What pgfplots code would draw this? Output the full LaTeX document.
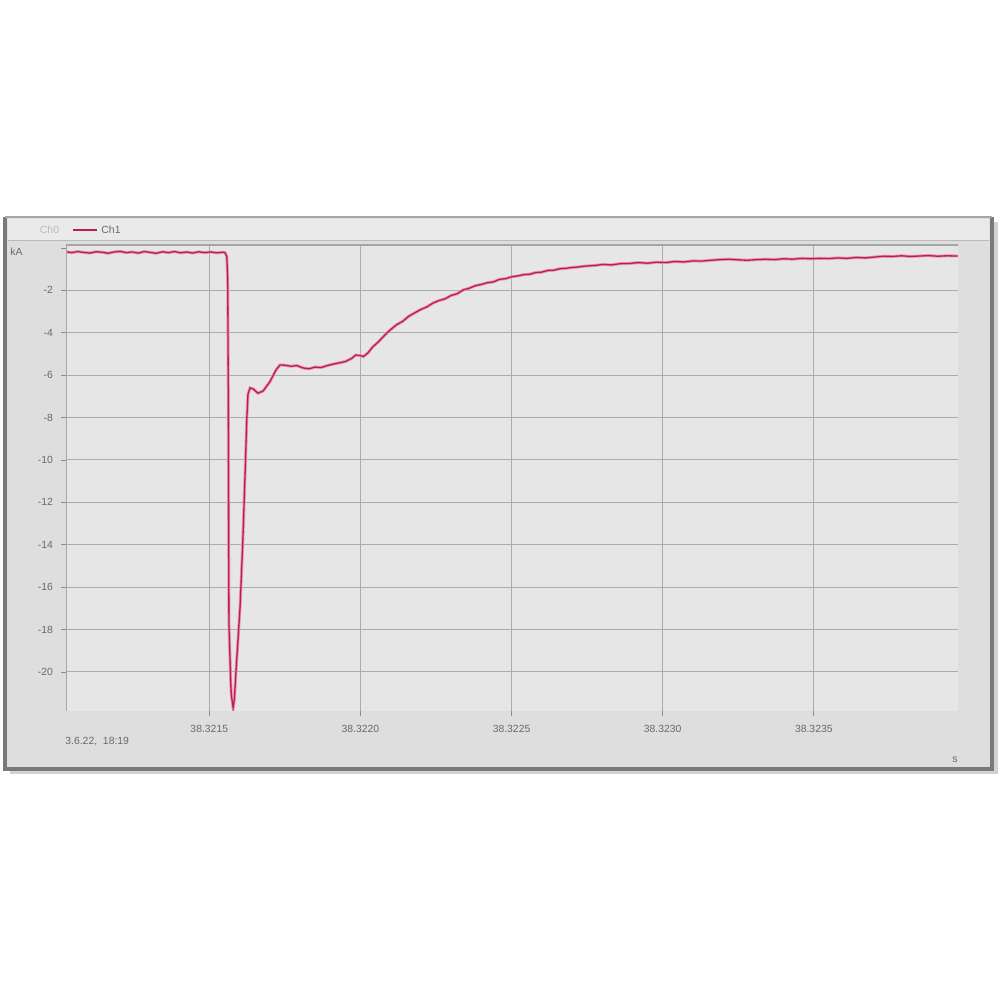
\documentclass[border=0pt]{standalone}
\usepackage{pgfplots}
\pgfplotsset{compat=1.18}
\usepackage{fontspec}
\setmainfont{Liberation Sans}
\definecolor{trace}{RGB}{190,30,78}
\definecolor{halo}{RGB}{232,150,175}
\definecolor{panel}{RGB}{222,222,222}
\definecolor{plotbg}{RGB}{230,230,230}
\definecolor{legbg}{RGB}{234,234,234}
\definecolor{gridc}{RGB}{172,172,172}
\definecolor{txt}{RGB}{105,105,105}
\pgfplotstableread{
u v
10.26 -0.18
10.45 -0.22
10.65 -0.17
10.85 -0.21
11.05 -0.24
11.25 -0.18
11.45 -0.20
11.65 -0.25
11.85 -0.19
12.05 -0.16
12.25 -0.22
12.45 -0.19
12.65 -0.24
12.85 -0.17
13.05 -0.21
13.25 -0.25
13.45 -0.18
13.65 -0.22
13.85 -0.17
14.05 -0.23
14.25 -0.19
14.45 -0.24
14.65 -0.18
14.85 -0.22
15.05 -0.19
15.25 -0.23
15.45 -0.20
15.52 -0.22
15.58 -0.40
15.61 -1.5
15.63 -7.2
15.65 -17.7
15.71 -20.5
15.73 -21.1
15.79 -21.7
15.83 -21.3
15.88 -20.05
15.95 -18.5
16.02 -16.9
16.11 -13.8
16.20 -10.0
16.24 -8.1
16.28 -6.9
16.35 -6.6
16.45 -6.65
16.61 -6.85
16.78 -6.75
17.01 -6.3
17.21 -5.75
17.34 -5.52
17.50 -5.53
17.70 -5.58
17.90 -5.55
18.10 -5.66
18.30 -5.70
18.50 -5.62
18.70 -5.64
18.90 -5.55
19.10 -5.48
19.30 -5.42
19.50 -5.36
19.70 -5.22
19.85 -5.05
20.00 -5.08
20.10 -5.12
20.25 -4.95
20.40 -4.68
20.60 -4.42
20.80 -4.12
21.00 -3.85
21.20 -3.62
21.40 -3.46
21.60 -3.22
21.80 -3.06
22.00 -2.90
22.20 -2.78
22.40 -2.60
22.60 -2.48
22.80 -2.40
23.00 -2.24
23.20 -2.16
23.40 -1.98
23.60 -1.90
23.80 -1.78
24.00 -1.72
24.20 -1.64
24.40 -1.60
24.60 -1.48
24.80 -1.45
25.00 -1.36
25.20 -1.32
25.40 -1.26
25.60 -1.24
25.80 -1.16
26.00 -1.14
26.20 -1.06
26.40 -1.05
26.60 -0.98
26.80 -0.96
27.00 -0.92
27.20 -0.90
27.40 -0.86
27.60 -0.84
27.80 -0.82
28.00 -0.78
28.30 -0.80
28.60 -0.74
28.90 -0.73
29.20 -0.69
29.50 -0.72
29.80 -0.67
30.10 -0.69
30.40 -0.64
30.70 -0.66
31.00 -0.61
31.30 -0.62
31.60 -0.58
31.90 -0.55
32.20 -0.53
32.50 -0.56
32.80 -0.58
33.10 -0.55
33.40 -0.53
33.70 -0.55
34.00 -0.51
34.30 -0.53
34.60 -0.49
34.90 -0.51
35.20 -0.49
35.50 -0.50
35.80 -0.47
36.10 -0.49
36.40 -0.45
36.70 -0.47
37.00 -0.43
37.30 -0.39
37.60 -0.40
37.90 -0.37
38.20 -0.40
38.50 -0.38
38.80 -0.36
39.10 -0.39
39.40 -0.37
39.76 -0.38
}\trace
\begin{document}
\begin{tikzpicture}
\fill[white] (0,0) rectangle (500pt,500pt);
% panel (px -> pt: x/2, (1000-y)/2)
\fill[gray!35] (5pt,113pt) rectangle (499pt,389pt);
\fill[panel] (2.5pt,115.5pt) rectangle (496pt,391.5pt);
\draw[gray!95!black,line width=1.6pt] (2.5pt,391.5pt) -- (2.5pt,115.5pt) -- (496pt,115.5pt) -- (496pt,391.5pt);
\draw[gray!70,line width=0.8pt] (2.5pt,391.5pt) -- (496pt,391.5pt);
% legend bar
\fill[legbg] (4pt,379.5pt) rectangle (494.5pt,390.5pt);
\draw[gray!55,line width=0.5pt] (4pt,379.5pt) -- (494.5pt,379.5pt);
\node[font=\fontsize{5.2}{6}\selectfont,text=gray!55] at (24.75pt,385pt) {Ch0};
\draw[trace,line width=0.7pt] (36.5pt,385pt) -- (48.5pt,385pt);
\node[font=\fontsize{5.2}{6}\selectfont,text=txt] at (55.5pt,385pt) {Ch1};
\node[font=\fontsize{5.2}{6}\selectfont,text=txt,anchor=west,inner sep=0pt] at (5pt,374pt) {kA};
\node[font=\fontsize{5.2}{6}\selectfont,text=txt,anchor=west,inner sep=0pt] at (32.5pt,129pt) {3.6.22,\ \ 18:19};
\node[font=\fontsize{5.2}{6}\selectfont,text=txt] at (477.5pt,120pt) {s};
\begin{axis}[
  at={(33pt,144.65pt)}, anchor=south west,
  scale only axis, width=446pt, height=232.85pt,
  xmin=10.26, xmax=39.77, ymin=-21.83, ymax=0.14,
  axis background/.style={fill=plotbg},
  axis line style={draw=none},
  xtick={15,20,25,30,35},
  xticklabels={38.3215,38.3220,38.3225,38.3230,38.3235},
  ytick={-20,-18,-16,-14,-12,-10,-8,-6,-4,-2},
  yticklabels={-20,-18,-16,-14,-12,-10,-8,-6,-4,-2},
  extra y ticks={0}, extra y tick labels={},
  extra tick style={grid=none},
  xtick pos=bottom, ytick pos=left,
  tick align=outside, major tick length=2.5pt,
  tick style={gridc!80!black,line width=0.4pt},
  grid=major, major grid style={gridc,line width=0.55pt},
  ticklabel style={font=\fontsize{5.2}{6}\selectfont,text=txt},
  xticklabel style={yshift=-1pt},
  yticklabel style={xshift=-0.5pt},
  clip=true,
]
\addplot[halo,line width=1.5pt] table[x=u,y=v] {\trace};
\addplot[trace,line width=0.65pt] table[x=u,y=v] {\trace};
\draw[gray!70,line width=0.6pt] (rel axis cs:0,0) -- (rel axis cs:0,1) -- (rel axis cs:1,1);
\end{axis}
\end{tikzpicture}
\end{document}
